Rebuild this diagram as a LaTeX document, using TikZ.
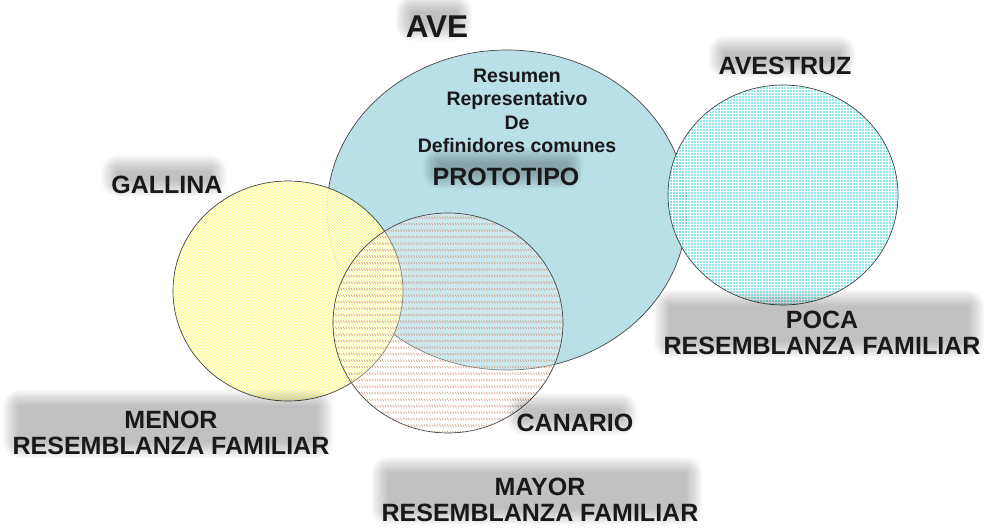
\documentclass[tikz,border=0pt]{standalone}
\usepackage{fontspec}
\setmainfont{Liberation Sans}
\usepackage{tikz}
\usetikzlibrary{shapes.geometric, patterns}

\definecolor{aveblue}{RGB}{185,224,231}
\definecolor{galyellow}{RGB}{252,252,95}
\definecolor{avecyan}{RGB}{115,228,230}
\definecolor{canhatch}{RGB}{205,145,115}
\definecolor{rimgray}{RGB}{70,70,70}

\pgfdeclarepatternformonly{dash rows}{\pgfqpoint{-1pt}{-1pt}}{\pgfqpoint{3.5pt}{7.5pt}}{\pgfqpoint{2.6pt}{6.5pt}}{
  \pgfsetlinewidth{0.5pt}
  \pgfpathmoveto{\pgfqpoint{0pt}{5pt}}
  \pgfpathlineto{\pgfqpoint{1.4pt}{2.8pt}}
  \pgfusepath{stroke}
}
\pgfdeclarelayer{front}
\pgfsetlayers{main,front}

\begin{document}
\begin{tikzpicture}[node distance=100pt, x=1pt, y=1pt]
\tikzstyle{ring} = [ellipse, draw=rimgray, line width=0.7pt, inner sep=0pt, minimum width=230pt, minimum height=220pt]
\tikzstyle{bigring} = [ring, minimum width=360pt, minimum height=320pt, fill=aveblue]
\tikzstyle{tag} = [font=\fontsize{25}{26.5}\selectfont\bfseries, align=center, text=black!90, inner sep=0pt]
\tikzstyle{smalltag} = [tag, font=\fontsize{19.5}{23.3}\selectfont\bfseries]
\tikzstyle{haze} = [black, fill opacity=0.02]

\useasboundingbox (-507,210) rectangle (480,-317);

% the sets
\node (ave) [bigring] at (0,0) {};
\node (avestruz) [ring, right of=ave, xshift=176pt, yshift=15pt, preaction={fill=avecyan, fill opacity=0.8}, pattern=grid, pattern color=white, fill opacity=0.4] {};
\node (gallina) [ring, left of=ave, xshift=-119pt, yshift=-81pt, preaction={fill=galyellow, fill opacity=0.82}, pattern=crosshatch, pattern color=white, fill opacity=0.25] {};
\node (canario) [ring, below of=ave, xshift=-59pt, yshift=-13pt, preaction={fill=white, fill opacity=0.3}, pattern=dash rows, pattern color=canhatch, fill opacity=0.55] {};

% the texts
\begin{pgfonlayer}{front}
\node (aveName) [tag, above of=ave, xshift=-70pt, yshift=83pt, font=\fontsize{31.5}{33}\selectfont\bfseries] {AVE};
\node (resumen) [smalltag, above of=ave, xshift=10pt, yshift=-1pt] {Resumen\\Representativo\\De\\Definidores comunes};
\node (proto) [tag, above of=ave, xshift=-1pt, yshift=-67pt] {PROTOTIPO};
\node (gallinaName) [tag, above of=gallina, xshift=-121pt, yshift=6pt] {GALLINA};
\node (menor) [tag, below of=gallina, xshift=-117pt, yshift=-42pt] {MENOR\\RESEMBLANZA FAMILIAR};
\node (canarioName) [tag, below of=canario, xshift=127pt] {CANARIO};
\node (mayor) [tag, below of=canario, xshift=92pt, yshift=-77pt] {MAYOR\\RESEMBLANZA FAMILIAR};
\node (avestruzName) [tag, above of=avestruz, xshift=2pt, yshift=29pt] {AVESTRUZ};
\node (poca) [tag, below of=avestruz, xshift=39pt, yshift=-38pt] {POCA\\RESEMBLANZA FAMILIAR};
\end{pgfonlayer}

% soft shadows behind the titles
\foreach \n in {aveName, proto, gallinaName, menor, canarioName, mayor, avestruzName, poca}
  \foreach \k in {1,...,14}
    \fill[haze, rounded corners=1.2*\k pt] ([shift={(7-1.2*\k, 4+1.2*\k)}]\n.north west) rectangle ([shift={(-13+1.2*\k, 14-1.2*\k)}]\n.south east);
\end{tikzpicture}
\end{document}
